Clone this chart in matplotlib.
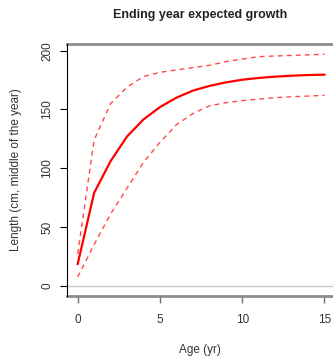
import matplotlib
matplotlib.use("Agg")
import matplotlib.pyplot as plt

plt.rcParams["font.family"] = ["Liberation Sans", "DejaVu Sans"]

# values
ages = list(range(16))
mean_len = [18.5, 79, 106, 127, 141.5, 152, 160, 166, 170, 173, 175.3, 176.8, 177.9, 178.7, 179.3, 179.6]
upper_len = [27, 124, 155, 169, 178, 181.6, 183.6, 185.6, 187.5, 190.7, 192.9, 194.9, 195.5, 196, 196.5, 197]
lower_len = [7.4, 35, 61, 83, 105, 122, 137, 146.5, 153, 155.7, 157.5, 158.8, 160, 160.8, 161.4, 162]

xticks = [0, 5, 10, 15]
yticks = [0, 50, 100, 150, 200]

W, H = 333, 363
fig = plt.figure(figsize=(W / 100, H / 100), dpi=100)
ax = fig.add_axes([67 / W, 1 - 296 / H, (336 - 67) / W, (296 - 44) / H])

ax.axhline(0, color="#c8c8c8", lw=1)
# bounds are drawn a bit lighter than the mean curve
ax.plot(ages, upper_len, color="#ff4a4a", lw=1, dashes=(3.5, 3))
ax.plot(ages, lower_len, color="#ff4a4a", lw=1, dashes=(3.5, 3))
ax.plot(ages, mean_len, color="red", lw=1.6)

ax.set_xlim(-0.65, 15.7)
ax.set_ylim(-8.8, 205.7)

for s in ["top", "bottom"]:
    ax.spines[s].set_color("#8c8c8c")
    ax.spines[s].set_linewidth(2)
ax.spines["right"].set_visible(False)
ax.spines["left"].set_color("black")
ax.spines["left"].set_linewidth(0.8)
ax.spines["left"].set_zorder(3)

ax.set_xticks(xticks)
ax.set_xticklabels([str(v) for v in xticks])
ax.set_yticks(yticks)
ax.set_yticklabels([str(v) for v in yticks], rotation=90, va="center")
ax.tick_params(axis="x", length=5, width=1, color="#707070", pad=8, labelsize=8.5, labelcolor="#333333")
ax.tick_params(axis="y", length=5, width=0.8, color="black", pad=5, labelsize=8.5, labelcolor="#333333")

fig.text(200 / W, 1 - 15 / H, "Ending year expected growth", ha="center", va="center",
         fontsize=9, fontweight="bold", color="#222222")
fig.text(200 / W, 1 - 350 / H, "Age (yr)", ha="center", va="center", fontsize=8.5, color="#333333")
fig.text(16 / W, 1 - 170 / H, "Length (cm, middle of the year)", ha="center", va="center",
         rotation=90, fontsize=8.5, color="#333333")

fig.savefig("out.png", dpi=100)
